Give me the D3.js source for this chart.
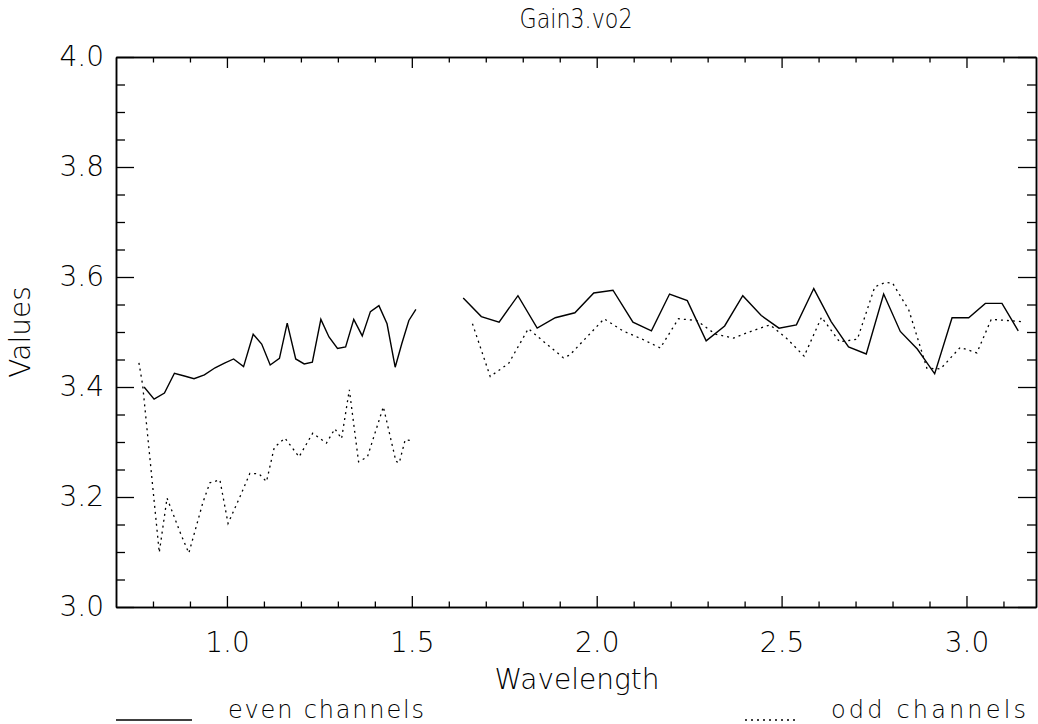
<!DOCTYPE html>
<html><head><meta charset="utf-8">
<script src="https://cdn.jsdelivr.net/npm/d3@7"></script>
<style>
body{margin:0;background:#fff}
text{font-family:"DejaVu Sans",sans-serif;fill:#000;font-weight:200}
</style>
</head><body><svg id="c" width="1038" height="724"></svg>
<script>
// ---- data ----
const titleText = "Gain3.vo2";
const xLabel = "Wavelength";
const yLabel = "Values";
const legendLabels = ["even channels", "odd channels"];

const evenWave1 = [0.776,0.803,0.831,0.858,0.885,0.911,0.939,0.968,0.992,1.018,1.045,1.071,1.094,1.117,1.142,1.163,1.186,1.209,1.231,1.254,1.276,1.299,1.321,1.343,1.366,1.388,1.411,1.433,1.455,1.473,1.492,1.511];
const evenVal1  = [3.400,3.378,3.389,3.425,3.420,3.415,3.422,3.435,3.443,3.451,3.437,3.496,3.478,3.440,3.452,3.516,3.451,3.442,3.445,3.523,3.491,3.470,3.473,3.523,3.493,3.537,3.548,3.515,3.436,3.479,3.521,3.541];
const evenWave2 = [1.639,1.688,1.736,1.787,1.839,1.888,1.941,1.992,2.044,2.098,2.148,2.197,2.245,2.296,2.346,2.395,2.445,2.493,2.540,2.587,2.634,2.681,2.729,2.776,2.821,2.867,2.914,2.961,3.006,3.051,3.096,3.140];
const evenVal2  = [3.562,3.528,3.518,3.566,3.507,3.526,3.535,3.571,3.576,3.518,3.502,3.569,3.557,3.484,3.511,3.566,3.530,3.507,3.513,3.579,3.519,3.473,3.460,3.569,3.501,3.469,3.424,3.526,3.526,3.552,3.552,3.502];

const oddWave1 = [0.762,0.772,0.817,0.838,0.875,0.897,0.935,0.954,0.981,1.003,1.035,1.062,1.087,1.107,1.128,1.157,1.195,1.232,1.269,1.292,1.310,1.331,1.356,1.380,1.423,1.457,1.466,1.482,1.502];
const oddVal1  = [3.444,3.404,3.099,3.198,3.133,3.098,3.190,3.226,3.231,3.152,3.200,3.243,3.242,3.228,3.290,3.307,3.273,3.316,3.298,3.324,3.306,3.395,3.264,3.273,3.364,3.265,3.262,3.304,3.302];
const oddWave2 = [1.664,1.712,1.762,1.815,1.863,1.910,1.927,2.020,2.071,2.123,2.172,2.221,2.270,2.321,2.370,2.420,2.469,2.516,2.561,2.608,2.657,2.705,2.752,2.780,2.800,2.844,2.893,2.930,2.983,3.028,3.067,3.108,3.148];
const oddVal2  = [3.515,3.419,3.443,3.506,3.479,3.453,3.458,3.524,3.502,3.487,3.471,3.524,3.521,3.496,3.489,3.502,3.513,3.487,3.456,3.527,3.482,3.487,3.582,3.590,3.589,3.540,3.434,3.433,3.472,3.462,3.523,3.521,3.519];

const xMajorTicks = [1.0,1.5,2.0,2.5,3.0];
const xMinorTicks = [0.8,0.9,1.1,1.2,1.3,1.4,1.6,1.7,1.8,1.9,2.1,2.2,2.3,2.4,2.6,2.7,2.8,2.9,3.1];
const yMajorTicks = [3.0,3.2,3.4,3.6,3.8,4.0];
const yMinorTicks = [3.05,3.1,3.15,3.25,3.3,3.35,3.45,3.5,3.55,3.65,3.7,3.75,3.85,3.9,3.95];

// ---- layout ----
const L = 116, R = 1036, T = 57, B = 607;
const svg = d3.select("#c");
const x = d3.scaleLinear().domain([0.7, 3.188]).range([L, R]);
const y = d3.scaleLinear().domain([3.0, 4.0]).range([B, T]);
const fmt = d3.format(".1f");

function styleAxis(g){
  g.selectAll("path.domain").attr("stroke","#000").attr("stroke-width",1.5);
  g.selectAll(".tick line").attr("stroke","#000").attr("stroke-width",1.3);
  g.selectAll("text").attr("font-size",28).attr("font-family","DejaVu Sans").attr("font-weight",200).attr("fill","#000");
}
// bottom
svg.append("g").attr("transform",`translate(0,${B})`)
  .call(d3.axisBottom(x).tickValues(xMajorTicks).tickSizeInner(-11).tickSizeOuter(0).tickPadding(25).tickFormat(fmt)).call(styleAxis);
svg.append("g").attr("transform",`translate(0,${B})`)
  .call(d3.axisBottom(x).tickValues(xMinorTicks).tickSizeInner(-5.5).tickSizeOuter(0).tickFormat("")).call(styleAxis);
// top
svg.append("g").attr("transform",`translate(0,${T})`)
  .call(d3.axisTop(x).tickValues(xMajorTicks).tickSizeInner(-11).tickSizeOuter(0).tickFormat("")).call(styleAxis);
svg.append("g").attr("transform",`translate(0,${T})`)
  .call(d3.axisTop(x).tickValues(xMinorTicks).tickSizeInner(-5.5).tickSizeOuter(0).tickFormat("")).call(styleAxis);
// left
svg.append("g").attr("transform",`translate(${L},0)`)
  .call(d3.axisLeft(y).tickValues(yMajorTicks).tickSizeInner(-18).tickSizeOuter(0).tickPadding(12).tickFormat(fmt)).call(styleAxis);
svg.append("g").attr("transform",`translate(${L},0)`)
  .call(d3.axisLeft(y).tickValues(yMinorTicks).tickSizeInner(-9).tickSizeOuter(0).tickFormat("")).call(styleAxis);
// right
svg.append("g").attr("transform",`translate(${R},0)`)
  .call(d3.axisRight(y).tickValues(yMajorTicks).tickSizeInner(-18).tickSizeOuter(0).tickFormat("")).call(styleAxis);
svg.append("g").attr("transform",`translate(${R},0)`)
  .call(d3.axisRight(y).tickValues(yMinorTicks).tickSizeInner(-9).tickSizeOuter(0).tickFormat("")).call(styleAxis);

// lines
const line = d3.line().x(d=>x(d[0])).y(d=>y(d[1]));
function seg(w,v){ return w.map((d,i)=>[d,v[i]]); }
[[evenWave1,evenVal1],[evenWave2,evenVal2]].forEach(([w,v])=>{
  svg.append("path").datum(seg(w,v)).attr("d",line).attr("fill","none").attr("stroke","#000").attr("stroke-width",1.4);
});
[[oddWave1,oddVal1],[oddWave2,oddVal2]].forEach(([w,v])=>{
  svg.append("path").datum(seg(w,v)).attr("d",line).attr("fill","none").attr("stroke","#000").attr("stroke-width",1.3).attr("stroke-dasharray","2,4");
});

// texts
svg.append("text").attr("x",(L+R)/2).attr("y",28).attr("text-anchor","middle").attr("font-size",27)
  .attr("textLength",113).attr("lengthAdjust","spacingAndGlyphs").text(titleText);
svg.append("text").attr("x",577).attr("y",689).attr("text-anchor","middle").attr("font-size",28).text(xLabel);
svg.append("text").attr("transform",`translate(30,${(T+B)/2}) rotate(-90)`).attr("text-anchor","middle").attr("font-size",28).text(yLabel);

// legend
svg.append("line").attr("x1",116).attr("x2",192).attr("y1",720).attr("y2",720).attr("stroke","#000").attr("stroke-width",1.4);
svg.append("text").attr("x",228).attr("y",718).attr("font-size",24)
  .attr("textLength",196).attr("lengthAdjust","spacing").text(legendLabels[0]);
svg.append("line").attr("x1",745).attr("x2",797).attr("y1",720).attr("y2",720).attr("stroke","#000").attr("stroke-width",1.3).attr("stroke-dasharray","2,4");
svg.append("text").attr("x",831).attr("y",718).attr("font-size",24)
  .attr("textLength",195).attr("lengthAdjust","spacing").text(legendLabels[1]);
</script>
</body></html>
